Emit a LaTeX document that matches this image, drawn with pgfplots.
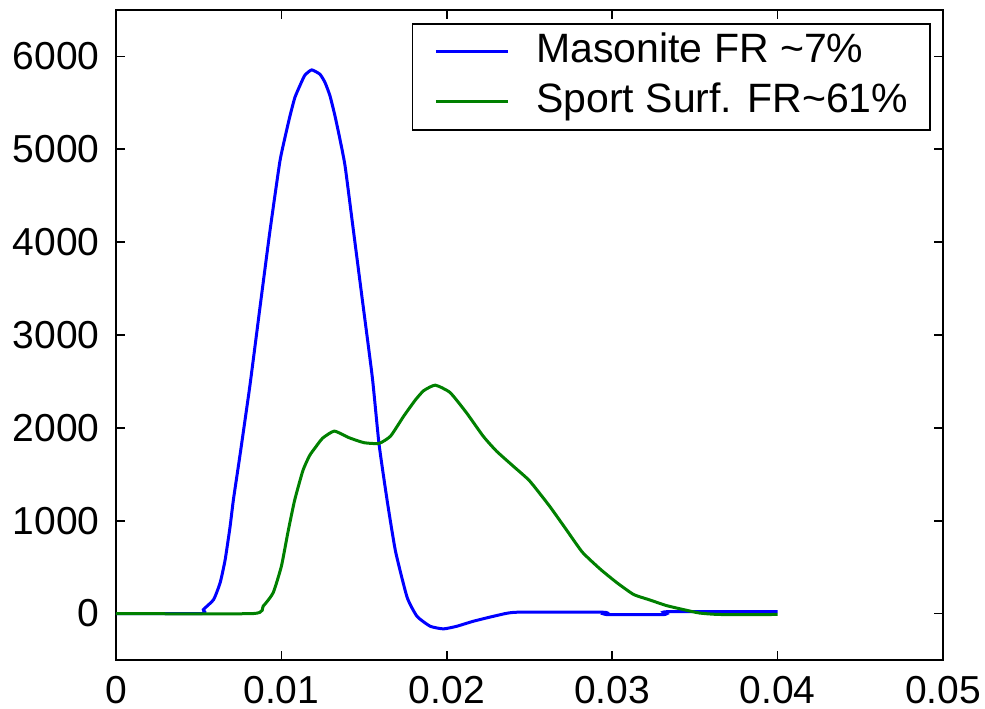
\documentclass[border=0pt]{standalone}
\usepackage{fontspec}
\setmainfont{Liberation Sans}
\usepackage{pgfplots}
\pgfplotsset{compat=1.18}
\definecolor{mblue}{RGB}{0,0,255}
\definecolor{mgreen}{RGB}{0,128,0}
\pgfplotstableread{
t v
0 0
0.00518 0
0.00528 43
0.0059 150
0.0063 334
0.0066 580
0.0069 940
0.0071 1228
0.0075 1710
0.0081 2460
0.0087 3290
0.0093 4110
0.0099 4860
0.01022 5130
0.01052 5360
0.01082 5560
0.01123 5730
0.01143 5800
0.01183 5855
0.01233 5808
0.01264 5718
0.01294 5574
0.01324 5359
0.01354 5108
0.01385 4820
0.0143 4200
0.0149 3370
0.0155 2540
0.0159 1830
0.0164 1210
0.0169 670
0.0176 175
0.0182 -30
0.0190 -137
0.0198 -165
0.0206 -137
0.0216 -83
0.0230 -22
0.0242 14
0.0295 14
0.0296 -10
0.0332 -10
0.0333 20
0.0400 20
}\masonite
\pgfplotstableread{
t v
0 0
0.0083 0
0.0089 80
0.0095 223
0.0100 510
0.0104 880
0.0108 1220
0.0113 1540
0.0117 1700
0.0121 1800
0.0125 1890
0.0132 1965
0.0141 1893
0.0150 1840
0.0159 1832
0.0166 1911
0.0174 2127
0.0181 2300
0.0186 2400
0.0193 2460
0.0202 2380
0.0212 2160
0.0222 1910
0.0230 1750
0.0240 1590
0.0250 1430
0.0262 1160
0.0272 910
0.0282 660
0.0293 475
0.0303 330
0.0313 205
0.0323 145
0.0333 85
0.0345 35
0.0353 5
0.0365 -10
0.0400 -10
}\sport
\begin{document}
\begin{tikzpicture}
\begin{axis}[
  scale only axis,
  width=413.5pt, height=325pt,
  xmin=0, xmax=0.05, ymin=-500, ymax=6500,
  xtick={0,0.01,0.02,0.03,0.04,0.05},
  xticklabels={0,0.01,0.02,0.03,0.04,0.05},
  ytick={0,1000,2000,3000,4000,5000,6000},
  yticklabels={0,1000,2000,3000,4000,5000,6000},
  scaled x ticks=false, scaled y ticks=false,
  tick align=inside,
  major tick length=4.5pt,
  axis line style={black, line width=0.8pt},
  tick style={black, line width=0.8pt},
  ticklabel style={font=\fontsize{19.5}{22}\selectfont, inner sep=1pt},
  xticklabel style={yshift=-7pt},
  yticklabel style={xshift=-7pt},
  /pgf/number format/assume math mode=true,
  legend style={
    at={(1,1)}, anchor=north east, xshift=-6pt, yshift=-6.5pt,
    draw=black, line width=0.8pt,
    font=\fontsize{20.5}{24}\selectfont,
    inner xsep=11pt, inner ysep=4.5pt,
    row sep=6pt, column sep=13.5pt,
    nodes={inner sep=0pt, text height=15pt, text depth=4pt},
  },
  legend cell align=left,
  legend image code/.code={\draw[#1] (0pt,0pt) -- (36pt,0pt);},
]
\addplot[mblue, line width=1.5pt, smooth, tension=0.3] table[x=t, y=v] {\masonite};
\addlegendentry{Masonite FR \textasciitilde7\%}
\addplot[mgreen, line width=1.5pt, smooth, tension=0.3] table[x=t, y=v] {\sport};
\addlegendentry{Sport Surf. FR\textasciitilde61\%\hspace{7pt}}
\end{axis}
\path ([xshift=-58pt,yshift=-24.5pt]current axis.south west) ([xshift=21pt,yshift=5pt]current axis.north east);
\end{tikzpicture}
\end{document}
